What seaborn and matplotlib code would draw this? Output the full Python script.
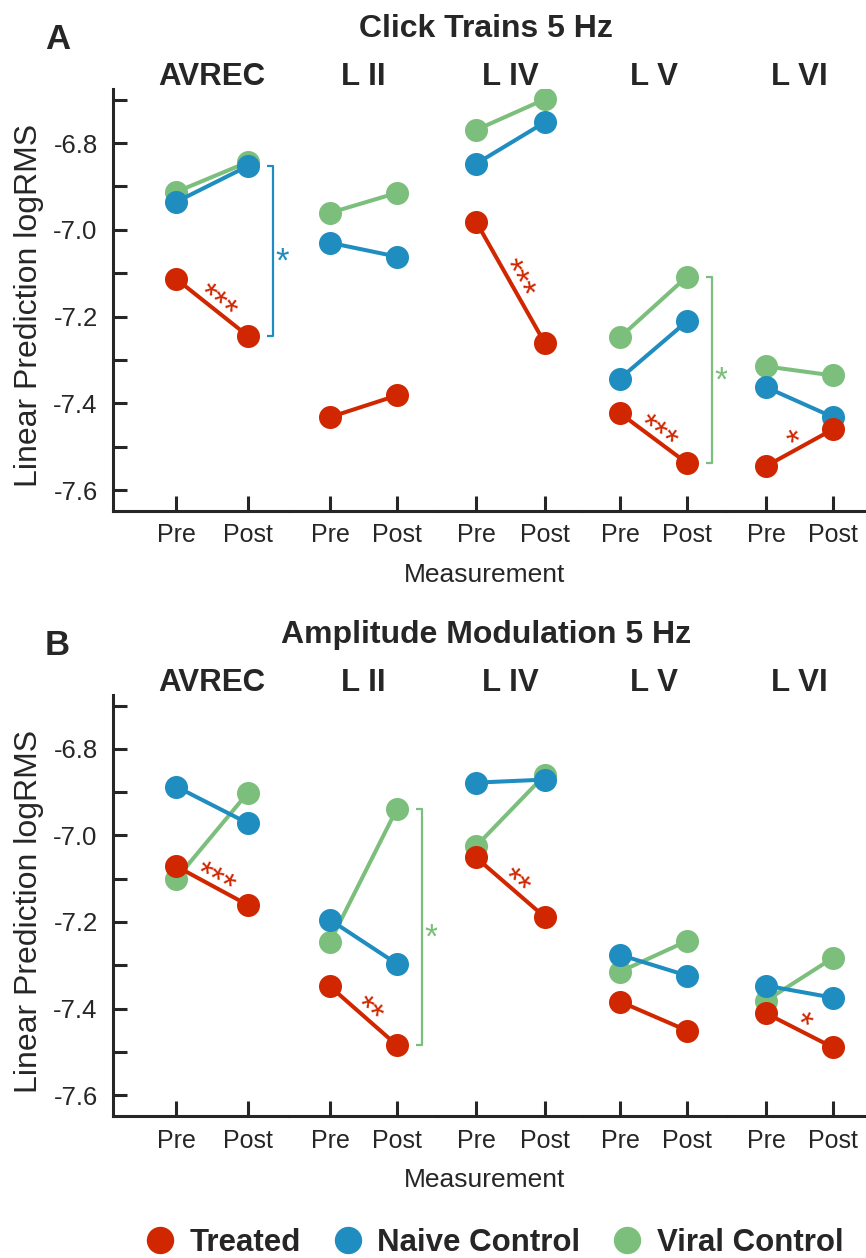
import numpy as np
import pandas as pd
import matplotlib
matplotlib.use("Agg")
import matplotlib.pyplot as plt
import seaborn as sns
from matplotlib.lines import Line2D

# ---------------- data ----------------
layers = ["AVREC", "L II", "L IV", "L V", "L VI"]
groups = ["Treated", "Naive Control", "Viral Control"]
measurements = ["Pre", "Post"]

# Click Trains 5 Hz
click_treated_pre = [-7.113, -7.432, -6.981, -7.423, -7.545]
click_treated_post = [-7.245, -7.382, -7.262, -7.538, -7.460]
click_naive_pre = [-6.936, -7.030, -6.848, -7.343, -7.363]
click_naive_post = [-6.853, -7.062, -6.752, -7.211, -7.432]
click_viral_pre = [-6.913, -6.961, -6.770, -7.248, -7.315]
click_viral_post = [-6.844, -6.915, -6.699, -7.108, -7.336]
click_treated_stars = ["***", "", "***", "***", "*"]
click_brackets = [("AVREC", "Naive Control", "*"), ("L V", "Viral Control", "*")]

# Amplitude Modulation 5 Hz
am_treated_pre = [-7.071, -7.349, -7.051, -7.384, -7.411]
am_treated_post = [-7.161, -7.485, -7.189, -7.451, -7.490]
am_naive_pre = [-6.887, -7.195, -6.878, -7.276, -7.347]
am_naive_post = [-6.972, -7.297, -6.871, -7.324, -7.375]
am_viral_pre = [-7.101, -7.246, -7.025, -7.315, -7.382]
am_viral_post = [-6.901, -6.938, -6.860, -7.244, -7.283]
am_treated_stars = ["***", "**", "**", "", "*"]
am_brackets = [("L II", "Viral Control", "*")]

panel_titles = ["Click Trains 5 Hz", "Amplitude Modulation 5 Hz"]
panel_letters = ["A", "B"]
ytick_values = [-7.6, -7.5, -7.4, -7.3, -7.2, -7.1, -7.0, -6.9, -6.8, -6.7]
ytick_labels = ["-7.6", "", "-7.4", "", "-7.2", "", "-7.0", "", "-6.8", ""]

colors = {"Treated": "#D02700", "Naive Control": "#1F8DBF", "Viral Control": "#7CBF7C"}


def make_df(tpre, tpost, npre, npost, vpre, vpost):
    rows = []
    src = {"Treated": (tpre, tpost), "Naive Control": (npre, npost),
           "Viral Control": (vpre, vpost)}
    for g, (pre, post) in src.items():
        for i, layer in enumerate(layers):
            rows.append((layer, "Pre", g, pre[i]))
            rows.append((layer, "Post", g, post[i]))
    return pd.DataFrame(rows, columns=["layer", "Measurement", "Group", "value"])


panels = [
    dict(df=make_df(click_treated_pre, click_treated_post, click_naive_pre,
                    click_naive_post, click_viral_pre, click_viral_post),
         stars=click_treated_stars, brackets=click_brackets),
    dict(df=make_df(am_treated_pre, am_treated_post, am_naive_pre,
                    am_naive_post, am_viral_pre, am_viral_post),
         stars=am_treated_stars, brackets=am_brackets),
]

# ---------------- style ----------------
sns.set_theme(style="ticks")
TXT = "#262626"
plt.rcParams["font.family"] = ["Liberation Sans", "DejaVu Sans"]
plt.rcParams.update({"text.color": TXT, "axes.labelcolor": TXT,
                     "xtick.color": TXT, "ytick.color": TXT,
                     "axes.edgecolor": TXT})

W, H = 866, 1258
fig = plt.figure(figsize=(W / 100, H / 100), dpi=100)

bounds = [113, 289, 436.5, 582.5, 726.5, 866]
pre_px = [176, 330, 476, 620, 766]
post_px = [248, 397, 545, 687, 833]
panel_px = [(89, 511), (695, 1116)]
YLIM = (-7.6484, -6.6755)
SPINE_W = 2.2
STAR_FS = 25
em_px = STAR_FS * 100 / 72


def fx(px):
    return px / W


def fy(py):
    return 1 - py / H


draw_order = ["Viral Control", "Naive Control", "Treated"]

for p, panel in enumerate(panels):
    top, bot = panel_px[p]
    df = panel["df"]
    for k, layer in enumerate(layers):
        ax = fig.add_axes([fx(bounds[k]), fy(bot),
                           (bounds[k + 1] - bounds[k]) / W, (bot - top) / H])
        sub = df[df["layer"] == layer]
        sns.pointplot(data=sub, x="Measurement", y="value", hue="Group",
                      order=measurements, hue_order=draw_order, palette=colors,
                      errorbar=None, markers="o", markersize=14.4, linewidth=2.9,
                      ax=ax, legend=False)
        u = post_px[k] - pre_px[k]
        ax.set_xlim((bounds[k] - pre_px[k]) / u, (bounds[k + 1] - pre_px[k]) / u)
        ax.set_ylim(*YLIM)
        ax.set_xlabel("")
        ax.set_ylabel("")
        ax.set_xticks([0, 1])
        ax.set_xticklabels(measurements)
        for s in ["top", "right"]:
            ax.spines[s].set_visible(False)
        for s in ["left", "bottom"]:
            ax.spines[s].set_linewidth(SPINE_W)
            ax.spines[s].set_color(TXT)
        ax.tick_params(axis="x", direction="in", length=11, width=SPINE_W,
                       labelsize=18, pad=9)
        if k == 0:
            ax.set_yticks(ytick_values)
            ax.set_yticklabels(ytick_labels)
            ax.tick_params(axis="y", direction="in", length=10, width=SPINE_W,
                           labelsize=18.5, pad=11)
        else:
            ax.spines["left"].set_visible(False)
            ax.tick_params(axis="y", left=False, labelleft=False)

        # facet title centred over Pre/Post
        ax.annotate(layer, xy=(0.5, 1.0), xycoords=ax.get_xaxis_transform(),
                    xytext=(0, 3), textcoords="offset points", ha="center",
                    va="baseline", fontsize=22.5, fontweight="bold",
                    annotation_clip=False)

        # significance stars on treated line
        lab = panel["stars"][k]
        if lab:
            y0 = sub[(sub.Group == "Treated") & (sub.Measurement == "Pre")]["value"].iloc[0]
            y1 = sub[(sub.Group == "Treated") & (sub.Measurement == "Post")]["value"].iloc[0]
            p0 = ax.transData.transform((0, y0))
            p1 = ax.transData.transform((1, y1))
            d = p1 - p0
            ang = np.degrees(np.arctan2(d[1], d[0]))
            n = np.array([-d[1], d[0]]) / np.hypot(*d)
            if n[1] < 0:
                n = -n
            off = n * (17 - 0.6 * em_px) * 0.72
            ax.annotate(lab, xy=(0.5, (y0 + y1) / 2), xytext=off,
                        textcoords="offset points", rotation=ang,
                        rotation_mode="anchor", ha="center", va="baseline",
                        color=colors["Treated"], fontsize=STAR_FS,
                        annotation_clip=False)

        # brackets
        for (blayer, bgroup, blab) in panel["brackets"]:
            if blayer != layer:
                continue
            yt = sub[(sub.Group == bgroup) & (sub.Measurement == "Post")]["value"].iloc[0]
            yb = sub[(sub.Group == "Treated") & (sub.Measurement == "Post")]["value"].iloc[0]
            xb = 1 + 25 / u
            xs = xb - 6 / u
            ax.plot([xs, xb, xb, xs], [yt, yt, yb, yb], color=colors[bgroup],
                    lw=1.6, clip_on=False, solid_capstyle="butt")
            ax.annotate(blab, xy=(xb, (yt + yb) / 2),
                        xytext=(9 * 0.72, -0.6 * em_px * 0.72),
                        textcoords="offset points", ha="center", va="baseline",
                        color=colors[bgroup], fontsize=STAR_FS,
                        annotation_clip=False)

    # panel texts
    fig.text(fx(45), fy(top - 40), panel_letters[p], fontsize=25,
             fontweight="bold", ha="left", va="baseline")
    fig.text(fx(486), fy(top - 52), panel_titles[p], fontsize=23,
             fontweight="bold", ha="center", va="baseline")
    fig.text(fx(29), fy(top + 216), "Linear Prediction logRMS", fontsize=23,
             rotation=90, ha="center", va="center")
    fig.text(fx(485), fy(bot + 71), "Measurement", fontsize=19,
             ha="center", va="baseline")

# legend
handles = [Line2D([], [], marker="o", linestyle="", markersize=18.7,
                  color=colors[g]) for g in groups]
fig.legend(handles, groups, loc="center", bbox_to_anchor=(fx(494), fy(1243)),
           ncol=3, frameon=False, prop=dict(weight="bold", size=22.5),
           handlelength=1.0, handletextpad=0.45, columnspacing=1.0,
           borderpad=0, borderaxespad=0)

fig.savefig("out.png", dpi=100)
